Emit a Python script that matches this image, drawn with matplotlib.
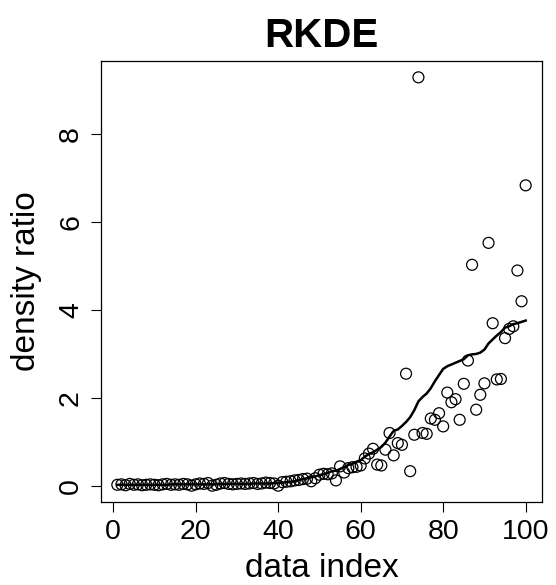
import matplotlib
matplotlib.use("Agg")
import matplotlib.pyplot as plt
import numpy as np

plt.rcParams['font.family'] = ['Liberation Sans', 'DejaVu Sans']

# density ratio estimate for each data point (circles)
ratio = [0.02, 0.03, 0.01, 0.04, 0.02, 0.03, 0.01, 0.02, 0.03, 0.02,
         0.01, 0.03, 0.04, 0.02, 0.03, 0.02, 0.04, 0.03, 0.00, 0.03,
         0.05, 0.04, 0.06, 0.00, 0.02, 0.05, 0.06, 0.04, 0.03, 0.04,
         0.05, 0.04, 0.05, 0.06, 0.04, 0.05, 0.07, 0.06, 0.05, 0.00,
         0.08, 0.09, 0.10, 0.12, 0.13, 0.15, 0.16, 0.10, 0.17, 0.25,
         0.27, 0.26, 0.28, 0.12, 0.44, 0.30, 0.40, 0.42, 0.43, 0.46,
         0.62, 0.73, 0.84, 0.48, 0.46, 0.82, 1.20, 0.69, 0.97, 0.93,
         2.55, 0.33, 1.16, 9.30, 1.20, 1.18, 1.53, 1.50, 1.65, 1.35,
         2.12, 1.90, 1.97, 1.50, 2.32, 2.85, 5.03, 1.73, 2.07, 2.33,
         5.53, 3.70, 2.42, 2.43, 3.36, 3.57, 3.63, 4.90, 4.20, 6.84]

# true density ratio (line)
true_ratio = [0.02, 0.02, 0.02, 0.02, 0.02, 0.02, 0.02, 0.02, 0.02, 0.02,
              0.02, 0.02, 0.02, 0.03, 0.03, 0.03, 0.03, 0.03, 0.03, 0.03,
              0.03, 0.03, 0.03, 0.03, 0.03, 0.04, 0.04, 0.04, 0.04, 0.04,
              0.04, 0.04, 0.04, 0.05, 0.05, 0.05, 0.05, 0.05, 0.06, 0.06,
              0.07, 0.08, 0.09, 0.10, 0.13, 0.15, 0.17, 0.19, 0.21, 0.24,
              0.26, 0.29, 0.33, 0.34, 0.38, 0.42, 0.47, 0.50, 0.54, 0.58,
              0.66, 0.72, 0.76, 0.82, 0.88, 0.98, 1.12, 1.25, 1.28, 1.36,
              1.45, 1.56, 1.72, 1.92, 2.02, 2.10, 2.22, 2.38, 2.52, 2.66,
              2.72, 2.76, 2.80, 2.84, 2.88, 2.97, 2.99, 3.00, 3.03, 3.10,
              3.24, 3.33, 3.42, 3.50, 3.60, 3.63, 3.68, 3.70, 3.73, 3.76]

idx = np.arange(1, len(ratio) + 1)
xticks = [0, 20, 40, 60, 80, 100]
yticks = [0, 2, 4, 6, 8]

fig = plt.figure(figsize=(5.56, 5.85), dpi=100)
ax = fig.add_axes([101/556, 83/585, 441/556, 441/585])

ax.scatter(idx, ratio, s=62, facecolors='none', edgecolors='black', linewidths=0.9, zorder=2)
ax.plot(idx, true_ratio, color='black', linewidth=1.8, zorder=3)

# R style axis ranges (4% padding)
xr = idx.max() - idx.min()
ax.set_xlim(idx.min() - 0.04 * xr, idx.max() + 0.04 * xr)
yr = max(ratio) - min(ratio)
ax.set_ylim(min(ratio) - 0.04 * yr, max(ratio) + 0.04 * yr)

ax.set_xticks(xticks)
ax.set_yticks(yticks)
ax.tick_params(axis='both', direction='out', length=7.2, width=0.8, labelsize=20.5, pad=5)
for lbl in ax.get_yticklabels():
    lbl.set_rotation(90)
    lbl.set_va('center')
for s in ax.spines.values():
    s.set_linewidth(0.9)

ax.set_xlabel('data index', fontsize=24)
ax.xaxis.label.set_va('center')
ax.xaxis.set_label_coords(0.5, -0.15)
ax.set_ylabel('density ratio', fontsize=24)
ax.yaxis.label.set_va('center')
ax.yaxis.set_label_coords(-0.168, 0.5)
ax.set_title('RKDE', fontsize=29, fontweight='bold', y=1.057, pad=0, va='center')

plt.savefig("out.png", dpi=100)
